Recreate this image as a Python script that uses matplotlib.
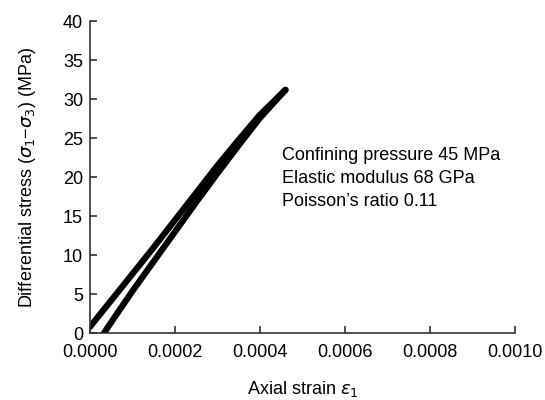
import matplotlib
matplotlib.use("Agg")
import matplotlib.pyplot as plt

plt.rcParams['font.family'] = ['Liberation Sans', 'DejaVu Sans']

# loading branch (lower/right) and unloading branch (upper/left)
load_strain = [0.000033, 0.00005, 0.0001, 0.00015, 0.0002, 0.00025, 0.0003, 0.00035, 0.0004, 0.00046]
load_stress = [0.0, 1.4, 5.4, 9.2, 13.0, 16.8, 20.5, 24.1, 27.6, 31.2]
unload_strain = [0.00046, 0.0004, 0.00035, 0.0003, 0.00025, 0.0002, 0.00015, 0.0001, 0.00005, 0.0]
unload_stress = [31.2, 28.0, 24.8, 21.5, 18.0, 14.5, 11.0, 7.6, 4.2, 0.8]

xticks = [0.0, 0.0002, 0.0004, 0.0006, 0.0008, 0.0010]
yticks = [0, 5, 10, 15, 20, 25, 30, 35, 40]
notes = ["Confining pressure 45 MPa", "Elastic modulus 68 GPa", "Poisson\u2019s ratio 0.11"]

fig = plt.figure(figsize=(5.45, 4.0), dpi=100)
ax = fig.add_axes([0.165, 0.167, 0.78, 0.78])

ax.plot(load_strain, load_stress, color='black', linewidth=4.5, solid_capstyle='round')
ax.plot(unload_strain, unload_stress, color='black', linewidth=4.5, solid_capstyle='round')

ax.set_xlim(0, 0.0010)
ax.set_ylim(0, 40)
ax.set_xticks(xticks)
ax.set_xticklabels([f"{v:.4f}" for v in xticks])
ax.set_yticks(yticks)

ax.spines['top'].set_visible(False)
ax.spines['right'].set_visible(False)
for s in ['left', 'bottom']:
    ax.spines[s].set_color('#333333')
    ax.spines[s].set_linewidth(1.2)
ax.tick_params(direction='in', length=5, width=1.2, color='#333333', labelsize=13)
ax.tick_params(axis='x', pad=8)
ax.tick_params(axis='y', pad=5)

ax.set_xlabel("Axial strain $\\varepsilon_1$", fontsize=13, labelpad=13)
ax.set_ylabel("Differential stress ($\\sigma_1$\u2212$\\sigma_3$) (MPa)", fontsize=13, labelpad=18)

for i, line in enumerate(notes):
    ax.text(0.000453, 22.8 - i * 2.95, line, fontsize=13, va='center', ha='left')

fig.savefig("out.png", dpi=100)
